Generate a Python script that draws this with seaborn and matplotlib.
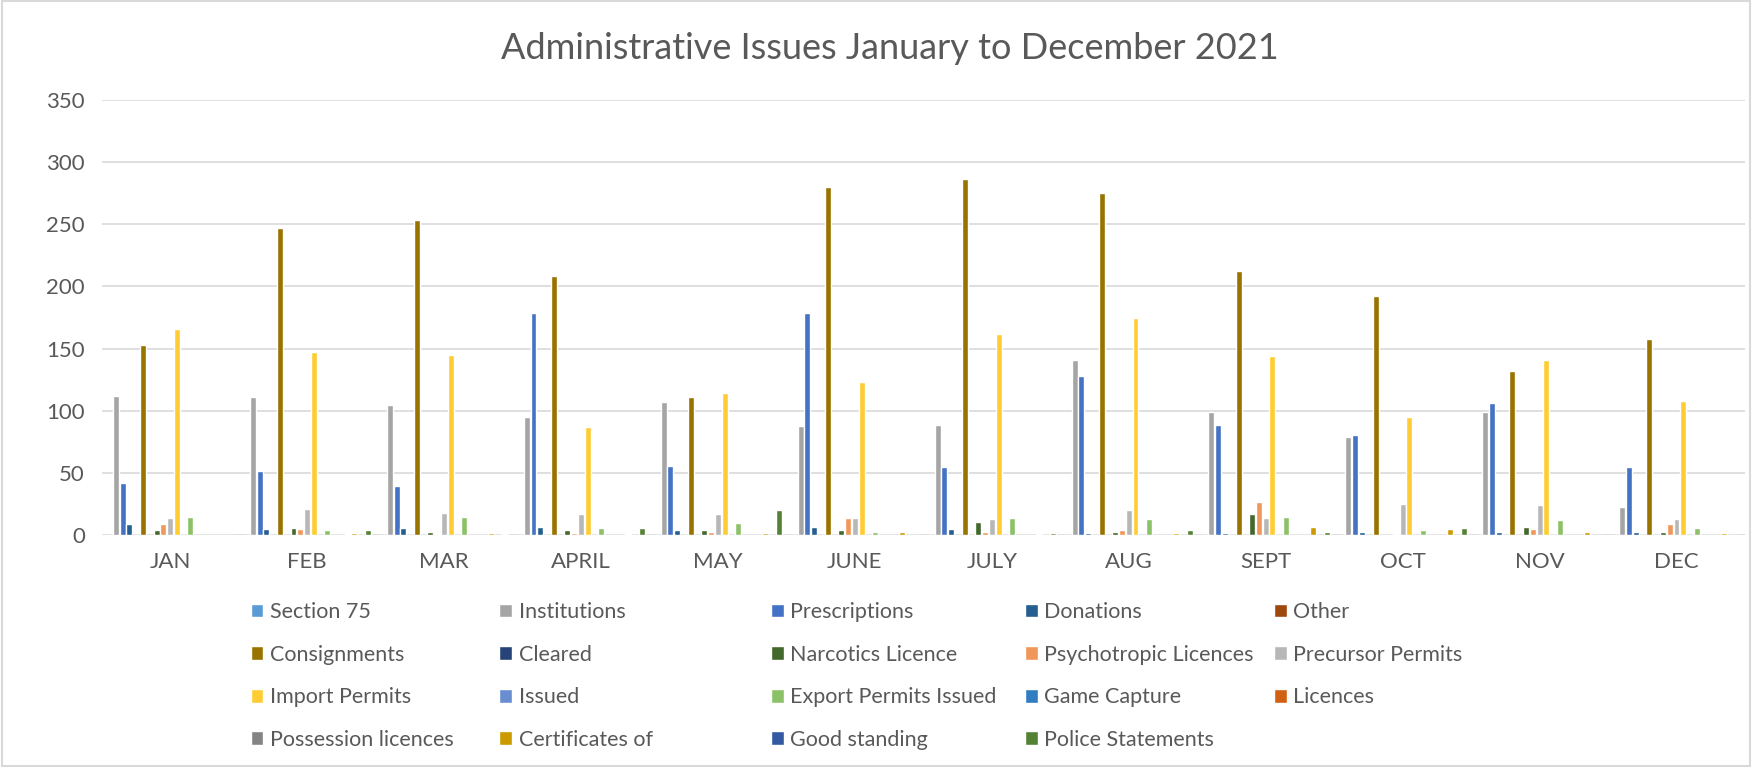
import matplotlib
matplotlib.use("Agg")
import matplotlib.pyplot as plt
from matplotlib.patches import Rectangle
import pandas as pd
import seaborn as sns

# months on the x axis
months = ["JAN", "FEB", "MAR", "APRIL", "MAY", "JUNE", "JULY", "AUG", "SEPT", "OCT", "NOV", "DEC"]

# series names in legend order
series_names = [
    "Section 75", "Institutions", "Prescriptions", "Donations", "Other",
    "Consignments", "Cleared", "Narcotics Licence", "Psychotropic Licences", "Precursor Permits",
    "Import Permits", "Issued", "Export Permits Issued", "Game Capture", "Licences",
    "Possession licences", "Certificates of", "Good standing", "Police Statements",
]

# values per series, Jan..Dec
section_75 = [0, 0, 0, 0, 0, 0, 0, 0, 0, 0, 0, 0]
institutions = [112, 111, 105, 95, 107, 88, 89, 141, 99, 79, 99, 23]
prescriptions = [42, 52, 40, 179, 56, 179, 55, 128, 89, 81, 106, 55]
donations = [9, 5, 6, 7, 4, 7, 5, 2, 2, 3, 3, 3]
other = [0, 0, 0, 0, 0, 0, 0, 0, 0, 0, 0, 0]
consignments = [153, 247, 253, 208, 111, 280, 286, 275, 212, 192, 132, 158]
cleared = [0, 0, 0, 0, 0, 0, 0, 0, 0, 0, 0, 0]
narcotics = [4, 6, 3, 4, 4, 4, 11, 3, 17, 0, 7, 3]
psychotropic = [9, 5, 1, 2, 3, 14, 3, 4, 27, 1, 5, 9]
precursor = [14, 21, 18, 17, 17, 14, 13, 20, 14, 25, 24, 13]
import_permits = [166, 147, 145, 87, 114, 123, 162, 175, 144, 95, 141, 108]
issued = [0, 0, 0, 0, 0, 0, 0, 0, 0, 0, 0, 0]
export_permits = [15, 4, 15, 6, 10, 3, 14, 13, 15, 4, 12, 6]
game_capture = [0, 0, 0, 0, 0, 0, 0, 0, 0, 0, 0, 0]
licences = [0, 0, 0, 0, 0, 0, 0, 0, 0, 0, 0, 0]
possession = [0, 1, 0, 0, 0, 0, 0, 0, 0, 0, 0, 0]
certificates = [0, 2, 2, 1, 2, 3, 1, 2, 7, 5, 3, 2]
good_standing = [0, 0, 0, 0, 0, 0, 0, 0, 0, 0, 0, 0]
police = [0, 4, 1, 6, 20, 0, 2, 4, 3, 6, 0, 0]

series_values = [
    section_75, institutions, prescriptions, donations, other,
    consignments, cleared, narcotics, psychotropic, precursor,
    import_permits, issued, export_permits, game_capture, licences,
    possession, certificates, good_standing, police,
]

series_colors = [
    "#5B9BD5", "#A5A5A5", "#4472C4", "#255E91", "#9E480E",
    "#997300", "#264478", "#43682B", "#F1975A", "#B7B7B7",
    "#FFCD33", "#698ED0", "#8CC168", "#327DC2", "#D26012",
    "#848484", "#CC9A00", "#335AA1", "#548235",
]

rows = []
for name, vals in zip(series_names, series_values):
    for m, v in zip(months, vals):
        rows.append({"month": m, "series": name, "value": v})
df = pd.DataFrame(rows)

sns.set_style("white")
plt.rcParams["font.family"] = ["Lato", "DejaVu Sans"]

text_color = "#595959"

fig = plt.figure(figsize=(17.52, 7.67), dpi=100)
ax = fig.add_axes([0.058, 0.302, 0.938, 0.568])

sns.barplot(data=df, x="month", y="value", hue="series", order=months,
            hue_order=series_names, palette=dict(zip(series_names, series_colors)),
            width=0.94, gap=0.12, saturation=1, ax=ax, legend=True)

ax.set_ylim(0, 350)
ax.set_yticks(range(0, 351, 50))
ax.set_xlim(-0.5, len(months) - 0.5)
ax.yaxis.grid(True, color="#D9D9D9", linewidth=1.2)
ax.set_axisbelow(True)
for s in ax.spines.values():
    s.set_visible(False)
ax.tick_params(axis="both", length=0, labelsize=16, colors=text_color, pad=12)
ax.set_xlabel("")
ax.set_ylabel("")

fig.suptitle("Administrative Issues January to December 2021", x=0.508, y=0.958,
             fontsize=26, color=text_color)

# legend: Excel lays it out row by row with even columns, so one legend per column
handles, labels = ax.get_legend_handles_labels()
ax.get_legend().remove()
col_x = [0.143, 0.285, 0.440, 0.585, 0.727]
for c, x in enumerate(col_x):
    idx = [r * 5 + c for r in range(4) if r * 5 + c < len(handles)]
    fig.legend([handles[i] for i in idx], [labels[i] for i in idx],
               ncol=1, loc="upper left", bbox_to_anchor=(x, 0.215), frameon=False,
               borderpad=0, borderaxespad=0,
               fontsize=15.5, handlelength=0.6, handleheight=0.6, handletextpad=0.3,
               labelspacing=1.05, labelcolor=text_color)

fig.patches.append(Rectangle((0.001, 0.001), 0.998, 0.998, transform=fig.transFigure,
                             fill=False, edgecolor="#D9D9D9", linewidth=1.5))

fig.savefig("out.png", dpi=100, facecolor="white")
